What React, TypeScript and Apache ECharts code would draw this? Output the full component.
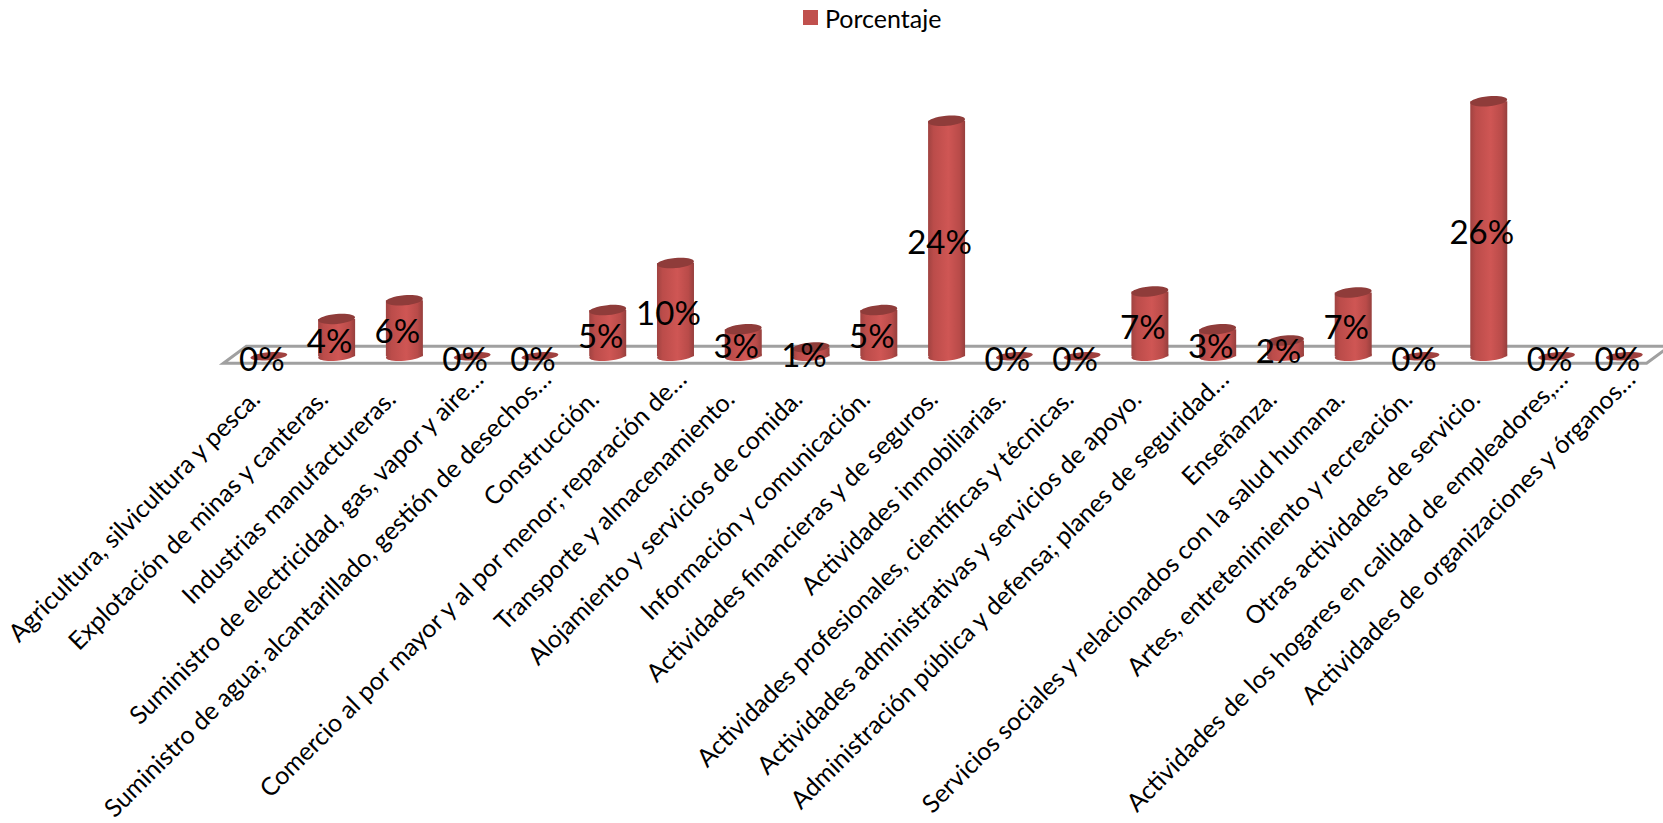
import React, { useEffect, useRef } from "react";
import * as echarts from "echarts";

const seriesName = "Porcentaje";
const categories = [
  "Agricultura, silvicultura y pesca.",
  "Explotación de minas y canteras.",
  "Industrias manufactureras.",
  "Suministro de electricidad, gas, vapor y aire…",
  "Suministro de agua; alcantarillado, gestión de desechos…",
  "Construcción.",
  "Comercio al por mayor y al por menor; reparación de…",
  "Transporte y almacenamiento.",
  "Alojamiento y servicios de comida.",
  "Información y comunicación.",
  "Actividades financieras y de seguros.",
  "Actividades inmobiliarias.",
  "Actividades profesionales, científicas y técnicas.",
  "Actividades administrativas y servicios de apoyo.",
  "Administración pública y defensa; planes de seguridad…",
  "Enseñanza.",
  "Servicios sociales y relacionados con la salud humana.",
  "Artes, entretenimiento y recreación.",
  "Otras actividades de servicio.",
  "Actividades de los hogares en calidad de empleadores,…",
  "Actividades de organizaciones y órganos…",
];
const values = [0, 3.8, 5.7, 0, 0, 4.7, 9.5, 2.75, 0.9, 4.7, 24, 0, 0, 6.6, 2.75, 1.6, 6.5, 0, 26, 0, 0];
const valueLabels = ["0%", "4%", "6%", "0%", "0%", "5%", "10%", "3%", "1%", "5%", "24%", "0%", "0%", "7%", "3%", "2%", "7%", "0%", "26%", "0%", "0%"];

const FONT = "Lato, Carlito, sans-serif";
const BODY = new echarts.graphic.LinearGradient(0, 0, 1, 0, [
  { offset: 0, color: "#a04341" },
  { offset: 0.15, color: "#bb4c4a" },
  { offset: 0.55, color: "#cf5654" },
  { offset: 0.85, color: "#b94b49" },
  { offset: 1, color: "#963f3d" },
]);

function renderCylinder(_p: any, api: any) {
  const idx = api.value(0);
  const top = api.coord([idx, api.value(1)]);
  const base = api.coord([idx, 0]);
  const cx = base[0];
  const rx = 18.5;
  const tilt = 0.09;
  const h = base[1] - top[1];
  const children: any[] = [];
  if (h > 0.5) {
    children.push({
      type: "ellipse",
      shape: { cx: 0, cy: 0, rx, ry: 4.6 },
      x: cx,
      y: base[1],
      rotation: tilt,
      style: { fill: BODY },
    });
    children.push({
      type: "rect",
      shape: { x: cx - rx, y: top[1], width: rx * 2, height: h },
      style: { fill: BODY },
    });
    children.push({
      type: "ellipse",
      shape: { cx: 0, cy: 0, rx, ry: 5 },
      x: cx,
      y: top[1],
      rotation: tilt,
      style: { fill: "#8f3c3a" },
    });
  } else {
    children.push({
      type: "ellipse",
      shape: { cx: 0, cy: 0, rx, ry: 4 },
      x: cx,
      y: base[1],
      rotation: tilt,
      style: { fill: "#a0413f" },
    });
  }
  children.push({
    type: "text",
    z2: 20,
    x: cx - 7,
    y: (top[1] + base[1]) / 2 + 2,
    style: {
      text: valueLabels[idx],
      fill: "#000000",
      font: `33px ${FONT}`,
      textAlign: "center",
      textVerticalAlign: "middle",
    },
  });
  return { type: "group", children };
}

function renderFloor(p: any) {
  const c = p.coordSys;
  const b = c.y + c.height;
  return {
    type: "polygon",
    shape: {
      points: [
        [c.x - 11.6, b + 7],
        [c.x + c.width - 11.6, b + 7],
        [c.x + c.width + 11.4, b - 10],
        [c.x + 11.4, b - 10],
      ],
    },
    style: { fill: "none", stroke: "#a0a0a0", lineWidth: 3 },
    silent: true,
  };
}

export default function App() {
  const ref = useRef<HTMLDivElement>(null);
  useEffect(() => {
    if (!ref.current) return;
    const chart = echarts.init(ref.current, undefined, { renderer: "svg" });
    chart.setOption({
      animation: false,
      backgroundColor: "#ffffff",
      legend: {
        data: [{ name: seriesName, icon: "rect" }],
        left: 798,
        top: 0,
        itemWidth: 15,
        itemHeight: 15,
        textStyle: { fontFamily: FONT, fontSize: 25, color: "#000000", padding: [0, 0, 0, 2] },
        selectedMode: false,
      },
      grid: { left: 234.6, width: 1423.6, top: 62, height: 295 },
      xAxis: {
        type: "category",
        data: categories,
        axisLine: { show: false },
        axisTick: { show: false },
        axisLabel: {
          interval: 0,
          rotate: 45,
          margin: 12,
          color: "#000000",
          fontFamily: FONT,
          fontSize: 25,
          hideOverlap: false,
          formatter: (v: string) => (v.endsWith("…") ? `{c|${v}}` : `{f|${v}}`),
          rich: {
            c: { fontFamily: FONT, fontSize: 25, color: "#000000", padding: [16, 0, 0, 0] },
            f: { fontFamily: FONT, fontSize: 25, color: "#000000", padding: [16, 28, 0, 0] },
          },
        },
      },
      yAxis: { type: "value", min: 0, max: 30, show: false },
      series: [
        {
          type: "custom",
          name: "floor",
          silent: true,
          z: 1,
          clip: false,
          data: [0],
          renderItem: renderFloor,
          encode: { x: 0 },
        },
        {
          type: "custom",
          name: seriesName,
          z: 2,
          clip: false,
          itemStyle: { color: "#c0504d" },
          data: values.map((v, i) => [i, v]),
          encode: { x: 0, y: 1 },
          renderItem: renderCylinder,
        },
      ],
    });
    return () => chart.dispose();
  }, []);
  return (
    <div
      ref={ref}
      style={{ position: "absolute", left: 0, top: 0, width: 1663, height: 823 }}
    />
  );
}
